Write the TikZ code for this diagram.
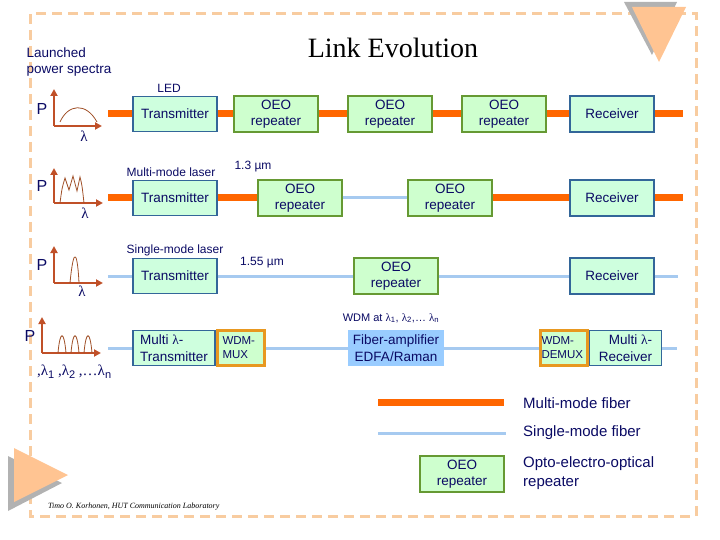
\documentclass[tikz,border=0pt]{standalone}
\usepackage{fontspec}
\setmainfont{Liberation Sans}
\newfontfamily\serif{Liberation Serif}
\usetikzlibrary{arrows.meta}
\definecolor{navy}{RGB}{10,10,100}
\definecolor{mmf}{RGB}{255,102,0}
\definecolor{smf}{RGB}{166,202,240}
\definecolor{framec}{RGB}{248,204,160}
\definecolor{txfill}{RGB}{206,255,222}
\definecolor{txdraw}{RGB}{51,102,153}
\definecolor{oeofill}{RGB}{206,255,206}
\definecolor{oeodraw}{RGB}{102,153,51}
\definecolor{ampfill}{RGB}{153,204,255}
\definecolor{muxdraw}{RGB}{232,152,32}
\definecolor{trior}{RGB}{255,196,146}
\definecolor{trigr}{RGB}{178,178,178}
\definecolor{axisc}{RGB}{192,80,40}
\definecolor{specc}{RGB}{160,80,40}
\tikzset{
  fs/.style={font=\fontsize{13.5}{16.5}\selectfont, text=navy},
  fsm/.style={font=\fontsize{12}{14}\selectfont, text=navy},
  txbox/.style={fs, draw=txdraw, fill=txfill, line width=1.2pt, minimum width=84pt, minimum height=35pt, inner sep=0pt, align=center},
  oeobox/.style={fs, draw=oeodraw, fill=oeofill, line width=1.2pt, minimum width=84pt, minimum height=36pt, inner sep=0pt, align=center},
  muxbox/.style={font=\fontsize{11.5}{14}\selectfont, text=navy, draw=muxdraw, fill=oeofill, line width=3pt, inner sep=0pt, align=left},
  mmfline/.style={draw=mmf, line width=7pt},
  smfline/.style={draw=smf, line width=3pt},
  axisline/.style={draw=axisc, line width=2.3pt, -{Triangle[length=7pt,width=7pt]}},
  specline/.style={draw=specc, line width=0.8pt},
  lam/.style={font=\serif\fontsize{15}{16}\selectfont, text=navy, inner sep=0pt},
  plabel/.style={font=\fontsize{16}{18}\selectfont, text=navy, inner sep=0pt},
}
\newcommand{\lsub}[1]{{\fontsize{11}{12}\selectfont\raisebox{-3pt}{\sffamily\fontspec{Liberation Sans}#1}}}
\begin{document}
\begin{tikzpicture}[x=1pt,y=-1pt]
\useasboundingbox (0,0) rectangle (720,540);
% frame
\draw[framec, line width=3pt, dash pattern=on 10pt off 6pt] (30,14) rectangle (696,516);
% corner triangles
\fill[trigr] (624,2) -- (677,2) -- (652,55) -- cycle;
\fill[trior] (632,7) -- (686,7) -- (659,62) -- cycle;
\fill[trigr] (8,456) -- (8,511) -- (62,483) -- cycle;
\fill[trior] (14,448) -- (14,502) -- (68,475) -- cycle;
% title
\node[font=\serif\fontsize{28}{30}\selectfont] (title) at (393,48) {Link Evolution};
\node[fs, align=left, anchor=west] (launched) at (23,62) {Launched\\power spectra};
% spectra
\node[plabel] (p1) at (42,109) {P};
\draw[axisline] (54,126) -- (54,89);
\draw[axisline] (54,126) -- (102,126);
\draw[specline] (60,122) .. controls (68,104) and (86,102) .. (97,122);
\node[lam] (l1) at (84,136) {λ};

\node[plabel] (p2) at (42,186) {P};
\draw[axisline] (54,203) -- (54,168);
\draw[axisline] (54,203) -- (103,203);
\draw[specline] (60,203) .. controls (62,188) .. (65,178) -- (69,190) -- (73,176) -- (77,191) -- (80,177) .. controls (82,185) .. (84,203);
\node[lam] (l2) at (85,213) {λ};

\node[plabel] (p3) at (42,265) {P};
\draw[axisline] (54,283) -- (54,246);
\draw[axisline] (54,283) -- (103,283);
\draw[specline] (70,283) .. controls (72,262) and (74,256) .. (75,257) .. controls (76,256) and (78,262) .. (79,283);
\node[lam] (l3) at (82,291) {λ};

\node[plabel] (p4) at (30,336) {P};
\draw[axisline] (42,353) -- (42,317);
\draw[axisline] (42,353) -- (101,353);
\foreach \c in {62,75,88}{
  \draw[specline] (\c-4,353) .. controls (\c-2,330) and (\c+2,330) .. (\c+4,353);
}
\node[font=\serif\fontsize{15}{16}\selectfont, text=navy, inner sep=0pt, anchor=west] (l4) at (37,372) {,λ\lsub{1} ,λ\lsub{2} ,…λ\lsub{n}};

% row 1
\node[txbox] (tx1) at (175,114) {Transmitter};
\node[oeobox] (o11) at (276,114) {OEO\\repeater};
\node[oeobox] (o12) at (390,114) {OEO\\repeater};
\node[oeobox] (o13) at (504,114) {OEO\\repeater};
\node[txbox, minimum height=36pt] (rx1) at (612,114) {Receiver};
\node[fsm] (led) at (169,88) {LED};
\coordinate (s1) at (108,114);
\coordinate (e1) at (683,114);
\draw[mmfline] (s1) -- (tx1.west);
\draw[mmfline] (tx1.east) -- (o11.west);
\draw[mmfline] (o11.east) -- (o12.west);
\draw[mmfline] (o12.east) -- (o13.west);
\draw[mmfline] (o13.east) -- (rx1.west);
\draw[mmfline] (rx1.east) -- (e1);

% row 2
\node[txbox] (tx2) at (175,198) {Transmitter};
\node[oeobox] (o21) at (300,198) {OEO\\repeater};
\node[oeobox] (o22) at (450,198) {OEO\\repeater};
\node[txbox, minimum height=36pt] (rx2) at (612,198) {Receiver};
\node[fsm] (mml) at (171,172) {Multi-mode laser};
\node[fsm] (w13) at (253,167) {1.3 µm};
\coordinate (s2) at (108,198);
\coordinate (e2) at (683,198);
\draw[mmfline] (s2) -- (tx2.west);
\draw[mmfline] (tx2.east) -- (o21.west);
\draw[smfline] (o21.east) -- (o22.west);
\draw[mmfline] (o22.east) -- (rx2.west);
\draw[mmfline] (rx2.east) -- (e2);

% row 3
\node[txbox] (tx3) at (175,276) {Transmitter};
\node[oeobox] (o31) at (396,276) {OEO\\repeater};
\node[txbox, minimum height=36pt] (rx3) at (612,276) {Receiver};
\node[fsm] (sml) at (175,250) {Single-mode laser};
\node[fsm] (w155) at (262,263) {1.55 µm};
\coordinate (s3) at (108,276);
\coordinate (e3) at (678,276);
\draw[smfline] (s3) -- (tx3.west);
\draw[smfline] (tx3.east) -- (o31.west);
\draw[smfline] (o31.east) -- (rx3.west);
\draw[smfline] (rx3.east) -- (e3);

% row 4
\node[txbox, minimum width=82pt, align=left] (mtx) at (174,348) {Multi {\serif λ}-\\Transmitter};
\node[muxbox, minimum width=47pt, minimum height=35pt, text width=36pt] (mux) at (240.5,348) {WDM-\\MUX};
\node[fs, fill=ampfill, minimum width=96pt, minimum height=36pt, inner sep=0pt, align=center] (amp) at (396,348) {Fiber-amplifier\\EDFA/Raman};
\node[muxbox, minimum width=47pt, minimum height=35pt, text width=45pt] (demux) at (564,348) {WDM-\\DEMUX};
\node[txbox, minimum width=72pt, align=right] (mrx) at (625.5,348) {Multi {\serif λ}-\\Receiver};
\node[font=\fontsize{11}{13}\selectfont, text=navy] (wdmat) at (391,318) {WDM at {\serif λ}\textsubscript{1}, {\serif λ}\textsubscript{2},… {\serif λ}\textsubscript{n}};
\coordinate (s4) at (108,348);
\coordinate (e4) at (677,348);
\draw[smfline] (s4) -- (mtx.west);
\draw[smfline] (mux.east) -- (amp.west);
\draw[smfline] (amp.east) -- (demux.west);
\draw[smfline] (mrx.east) -- (e4);

% legend
\coordinate (lm1) at (378,402);
\coordinate (lm2) at (504,402);
\coordinate (ls1) at (378,433);
\coordinate (ls2) at (506,433);
\draw[mmfline] (lm1) -- (lm2);
\draw[smfline] (ls1) -- (ls2);
\node[oeobox] (loeo) at (462,474) {OEO\\repeater};
\node[font=\fontsize{15}{18}\selectfont, text=navy, anchor=west, inner sep=0pt] (lmt) at (523,403) {Multi-mode fiber};
\node[font=\fontsize{15}{18}\selectfont, text=navy, anchor=west, inner sep=0pt] (lst) at (523,433) {Single-mode fiber};
\node[font=\fontsize{15}{19}\selectfont, text=navy, anchor=west, inner sep=0pt, align=left] (lot) at (523,473) {Opto-electro-optical\\repeater};

% footer
\node[font=\serif\itshape\fontsize{8}{9}\selectfont, anchor=west, inner sep=0pt] (foot) at (48,507) {Timo O. Korhonen, HUT Communication Laboratory};
\end{tikzpicture}
\end{document}
